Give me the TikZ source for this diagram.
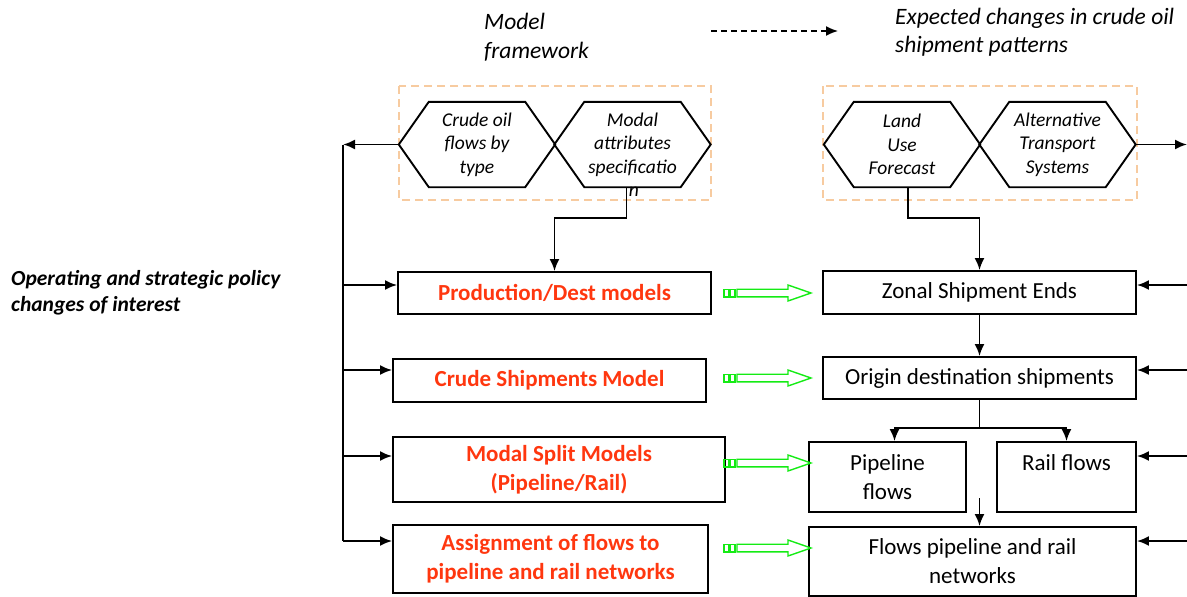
\documentclass[tikz,border=0pt]{standalone}
\usepackage{fontspec}
\setmainfont{Carlito}
\usetikzlibrary{arrows.meta}
\definecolor{redtext}{RGB}{255,55,15}
\definecolor{peach}{RGB}{247,203,160}
\definecolor{arrowgreen}{RGB}{20,235,20}
\tikzset{
  box/.style={draw, line width=1.9pt, inner sep=0pt, align=center, font=\fontsize{23}{29}\selectfont},
  modelbox/.style={box, text=redtext, font=\fontsize{23}{29}\selectfont\bfseries},
  hexbox/.style={inner sep=0pt, minimum width=96pt, minimum height=85pt, align=center, font=\fontsize{19.5}{23.5}\selectfont\itshape},
  hexline/.style={line width=1.9pt},
  groupbox/.style={draw=peach, dash pattern=on 8pt off 5pt, line width=1.6pt},
  line/.style={line width=1.9pt},
  arr/.style={line, -{Latex[length=12pt,width=10pt]}},
  greenline/.style={draw=arrowgreen, line width=1.4pt},
  note/.style={align=left, inner sep=0pt, font=\fontsize{23.5}{29}\selectfont\itshape},
}
\begin{document}
\begin{tikzpicture}[x=1pt,y=-1pt]
  \useasboundingbox (0,0) rectangle (1187,597);

  % legend
  \node[note, anchor=west] (framework) at (484,37.5) {Model\\framework};
  \node[note, anchor=west, font=\fontsize{23.5}{28}\selectfont\itshape] (expected) at (895,32) {Expected changes in crude oil\\shipment patterns};
  \coordinate (legfrom) at (711,31);
  \coordinate (legto) at (838,31);
  \draw[arr, line width=1.5pt, dash pattern=on 6pt off 4pt] (legfrom) -- (legto);

  \node[anchor=west, align=left, inner sep=0pt, font=\fontsize{21.5}{26}\selectfont\bfseries\itshape] (policy) at (11,293)
    {Operating and strategic policy\\changes of interest};

  % dashed groups
  \draw[groupbox] (399,86) rectangle (711,200);
  \draw[groupbox] (823,86) rectangle (1137,200);

  % hexagons
  \node[hexbox] (crude) at (477,144.5) {Crude oil\\flows by\\type};
  \node[hexbox, label={[inner sep=0pt, xshift=1.5pt, font=\fontsize{19.5}{23.5}\selectfont\itshape]below:n}] (modal) at (632.5,144.5) {Modal\\attributes\\specificatio};
  \node[hexbox] (landuse) at (902,144.5) {Land\\Use\\Forecast};
  \node[hexbox] (altsys) at (1057.5,144.5) {Alternative\\Transport\\Systems};
  \foreach \h in {crude,modal,landuse,altsys}
    \draw[hexline] (\h.north west) -- (\h.north east) -- ([xshift=30pt]\h.east) -- (\h.south east)
      -- (\h.south west) -- ([xshift=-30pt]\h.west) -- cycle;

  % model framework
  \node[modelbox, minimum width=313pt, minimum height=42pt] (prod) at (554.5,293) {Production/Dest models};
  \node[modelbox, minimum width=313pt, minimum height=43pt] (shipmodel) at (549.5,380.5) {Crude Shipments Model};
  \node[modelbox, minimum width=332pt, minimum height=65pt] (split) at (559,469.5) {Modal Split Models\\(Pipeline/Rail)};
  \node[modelbox, minimum width=315pt, minimum height=68pt] (assign) at (550.5,559) {Assignment of flows to\\pipeline and rail networks};

  % expected changes
  \node[box, minimum width=313pt, minimum height=43pt] (zonal) at (979.5,292.5) {Zonal Shipment Ends};
  \node[box, minimum width=313pt, minimum height=42pt] (odship) at (979.5,378) {Origin destination shipments};
  \node[box, minimum width=157pt, minimum height=70pt] (pipe) at (887.5,477) {Pipeline\\flows};
  \node[box, minimum width=139pt, minimum height=70pt] (rail) at (1066.5,477) {Rail flows\\\mbox{}};
  \node[box, minimum width=327pt, minimum height=69pt] (flows) at (972.5,561.5) {Flows pipeline and rail\\networks};

  % left feed
  \coordinate (ltop) at (343,144.5);
  \coordinate (lbot) at (343,541);
  \draw[arr] ([xshift=-30pt]crude.west) -- (ltop);
  \draw[line] (ltop) -- (lbot);
  \foreach \y/\n in {285/prod,370/shipmodel,456/split,541/assign}
    \draw[arr] (343,\y) -- (\n.west |- 343,\y);

  % right feed
  \draw[arr] ([xshift=30pt]altsys.east) -- (1187,144.5);
  \foreach \y/\n in {285/zonal,370/odship,456/rail,541/flows}
    \draw[arr] (1187,\y) -- (\n.east |- 1187,\y);

  % flow connectors
  \draw[arr] ([xshift=-6pt]modal.south) -- ++(0,31) -| (prod.north);
  \draw[arr] ([xshift=6pt]landuse.south) -- ++(0,31) -| (zonal.north);
  \draw[arr] (zonal) -- (odship);
  \draw[line] (odship.south) -- ++(0,28) coordinate (fork);
  \draw[arr] (fork) -| ([xshift=7pt]pipe.north);
  \draw[arr] (fork) -| (rail.north);
  \coordinate (gap) at (979.5,498);
  \draw[arr] (gap) -- (gap |- flows.north);

  % green transfer arrows
  \foreach \y in {293,378,463,548} {
    \draw[greenline] (724,\y-3.8) rectangle (729,\y+3.8) (730,\y-3.8) rectangle (735,\y+3.8);
    \draw[greenline] (737,\y-3.8) -- (788,\y-3.8) -- (788,\y-8) -- (811,\y)
      -- (788,\y+8) -- (788,\y+3.8) -- (737,\y+3.8) -- cycle;
  }
\end{tikzpicture}
\end{document}
